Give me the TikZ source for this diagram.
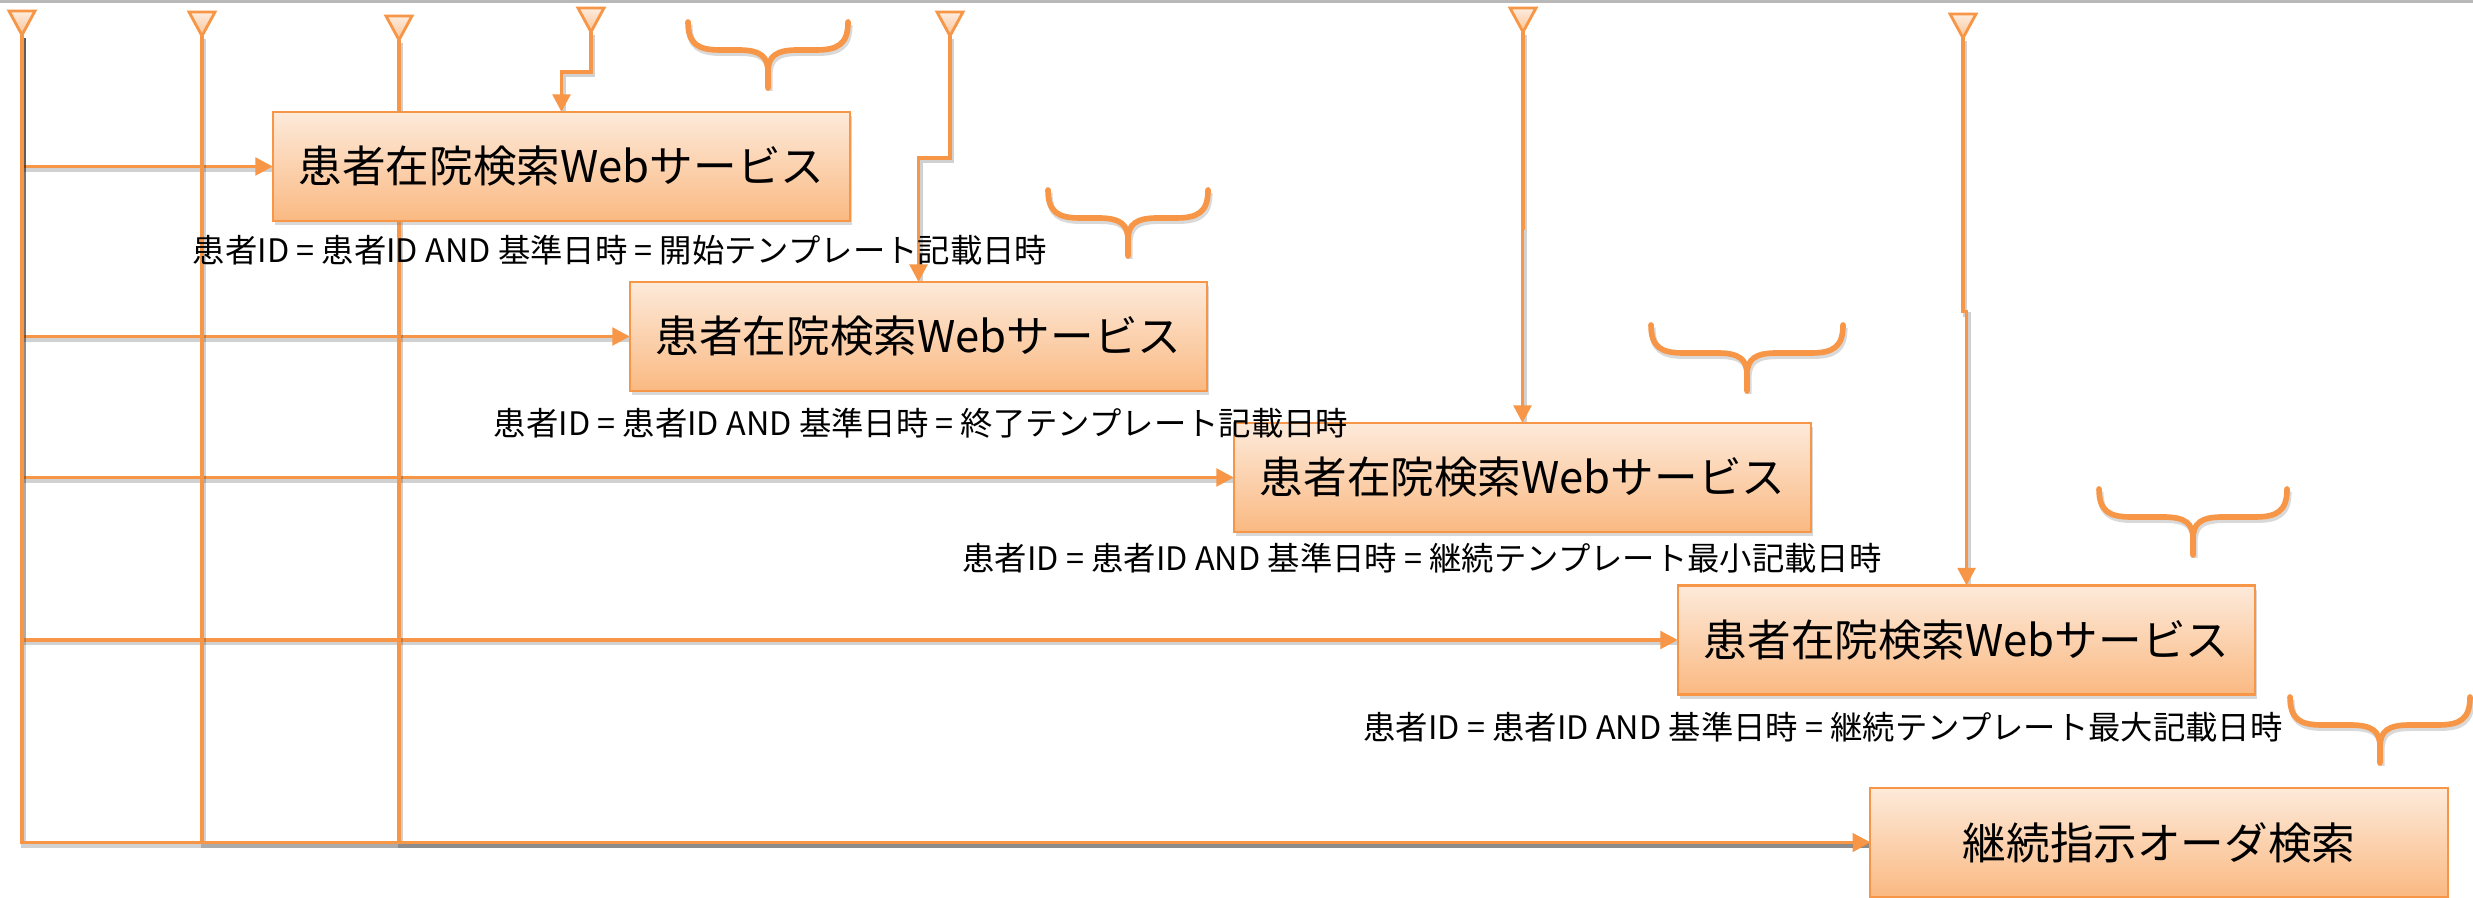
\documentclass[tikz,border=0pt]{standalone}
\usepackage{fontspec}
\newfontfamily\jp{Noto Sans CJK JP}
\usetikzlibrary{arrows.meta,calc,shadows}
\pgfdeclarelayer{bg}
\pgfsetlayers{bg,main}
\definecolor{org}{HTML}{F79646}
\definecolor{boxtop}{RGB}{253,234,218}
\definecolor{boxbot}{RGB}{250,185,130}
\definecolor{tritop}{RGB}{253,236,222}
\definecolor{tribot}{RGB}{250,196,150}
\tikzset{
  conn/.style={draw=org, line width=1.05pt, -{Triangle[length=5pt,width=5pt]},
    preaction={draw=black, draw opacity=0.18, -, line width=1.3pt,
      transform canvas={shift={(0.5pt,-0.8pt)}}}},
  svcbox/.style={draw=org, line width=0.6pt, top color=boxtop, bottom color=boxbot,
    minimum width=5.77cm, minimum height=1.09cm, inner sep=0pt, outer sep=0pt,
    font=\jp\fontsize{12.4}{14}\selectfont,
    drop shadow={shadow xshift=0.5pt, shadow yshift=-1.2pt, opacity=0.3}},
  cond/.style={font=\jp\fontsize{9.2}{11}\selectfont, inner sep=0pt, text=black},
  bracepath/.style={draw=org, line width=1.6pt, line cap=round, line join=round,
    preaction={draw=black, draw opacity=0.15, line width=1.8pt,
      transform canvas={shift={(0.4pt,-0.8pt)}}}},
  trishape/.style={draw=org, line width=0.8pt, top color=tritop, bottom color=tribot},
}
% merge triangle: name, center x, top y
\newcommand\mergetri[3]{%
  \path[trishape] (#2-13,#3) -- (#2+13,#3) -- (#2,#3+24) -- cycle;
  \coordinate (#1) at (#2,#3+24);
}
% brace: center x, half width, top y
\newcommand\upbrace[3]{%
  \path[bracepath] (#1-#2,#3) .. controls (#1-#2,#3+22) and (#1-#2+10,#3+28) .. (#1-#2+32,#3+28)
    -- (#1-30,#3+28) .. controls (#1-8,#3+28) and (#1,#3+34) .. (#1,#3+50) -- (#1,#3+66)
    (#1,#3+50) .. controls (#1,#3+34) and (#1+8,#3+28) .. (#1+30,#3+28)
    -- (#1+#2-32,#3+28) .. controls (#1+#2-10,#3+28) and (#1+#2,#3+22) .. (#1+#2,#3);
}
\begin{document}
\begin{tikzpicture}[x=0.01cm,y=-0.01cm]
\useasboundingbox (0,0) rectangle (2473,898);

% service boxes
\node[svcbox] (b1) at (561.5,166.5) {患者在院検索Webサービス};
\node[svcbox] (b2) at (918.5,336.5) {患者在院検索Webサービス};
\node[svcbox] (b3) at (1522.5,477.5) {患者在院検索Webサービス};
\node[svcbox] (b4) at (1966.5,640) {患者在院検索Webサービス};
\node[svcbox] (b5) at (2159,842.5) {継続指示オーダ検索};

% merge triangles
\mergetri{t1}{22}{11}
\mergetri{t2}{202}{12}
\mergetri{t3}{399}{16}
\mergetri{t4}{591}{8}
\mergetri{t5}{950}{12}
\mergetri{t6}{1523}{8}
\mergetri{t7}{1963}{14}

% condition labels
\node[cond] (l1) at (620,250) {患者ID = 患者ID AND 基準日時 = 開始テンプレート記載日時};
\node[cond] (l2) at (921,423) {患者ID = 患者ID AND 基準日時 = 終了テンプレート記載日時};
\node[cond] (l3) at (1422,558) {患者ID = 患者ID AND 基準日時 = 継続テンプレート最小記載日時};
\node[cond] (l4) at (1823,727) {患者ID = 患者ID AND 基準日時 = 継続テンプレート最大記載日時};

% braces
\upbrace{768}{80}{22}
\upbrace{1128}{80}{190}
\upbrace{1747}{96}{325}
\upbrace{2193}{94}{489}
\upbrace{2380}{90}{697}

\begin{pgfonlayer}{bg}
  \fill[white] (0,0) rectangle (2473,898);
  \fill[black!28] (0,0) rectangle (2473,3);
  \draw[conn] (t1) |- (b1.west);
  \draw[conn] (t1) |- (b2.west);
  \draw[conn] (t1) |- (b3.west);
  \draw[conn] (t1) |- (b4.west);
  \draw[conn] (t1) |- (b5.west);
  \draw[conn] (t2) |- (b5.west);
  \draw[conn] (t3) |- (b5.west);
  \draw[conn] (t4) |- ($(b1.north)+(0,-40)$) -- (b1.north);
  \draw[conn] (t5) |- ($(b2.north)+(0,-124)$) -- (b2.north);
  \draw[conn] (t6) |- ($(b3.north)+(0,-195)$) -- (b3.north);
  \draw[conn] (t7) |- ($(b4.north)+(0,-274)$) -- (b4.north);
\end{pgfonlayer}
\end{tikzpicture}
\end{document}
